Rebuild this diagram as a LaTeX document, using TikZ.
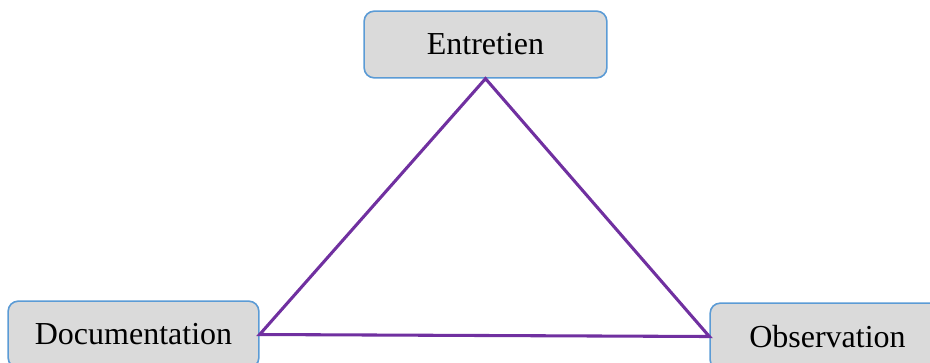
\documentclass[tikz,border=0pt]{standalone}
\usepackage{fontspec}
\setmainfont{Liberation Serif}
\usepackage{tikz}
\usetikzlibrary{positioning,calc}
\usepackage{xcolor}
\definecolor{fborder}{HTML}{5B9BD5}
\definecolor{ffill}{HTML}{DADADA}
\definecolor{fpurple}{HTML}{7030A0}

\begin{document}
\begin{tikzpicture}[x=0.75pt, y=-0.75pt,
  method/.style={draw=fborder, line width=1.2pt, fill=ffill, rounded corners=7.5pt,
    minimum width=182pt, minimum height=50pt, inner sep=0pt, font=\fontsize{24}{28}\selectfont},
  link/.style={draw=fpurple, line width=2.3pt, line join=miter}]
\clip (0,0) rectangle (930,362);
% ================= the three methods =================
\node[method] (ent) at (485.5,44.5) {Entretien};
\node[method, minimum width=188pt] (doc) at (133.5,334.5) {Documentation};
\node[method, minimum width=176pt] (obs) at (827.5,336.5) {Observation};
% ================= triangle between them =================
\draw[link] (ent.south) -- (doc.east) -- (obs.west) -- cycle;
\end{tikzpicture}
\end{document}
